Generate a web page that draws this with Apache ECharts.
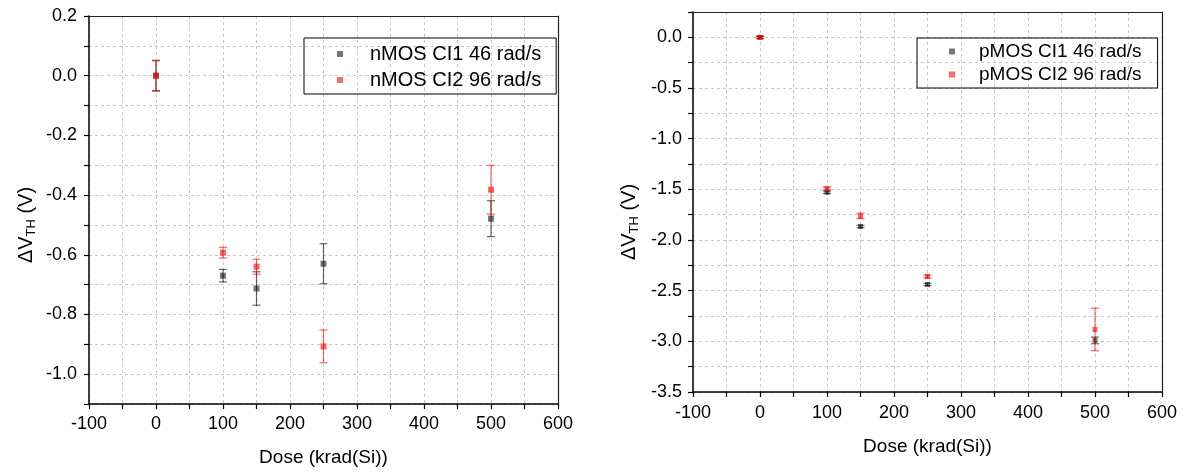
<!DOCTYPE html>
<html>
<head>
<meta charset="utf-8">
<script src="https://cdn.jsdelivr.net/npm/echarts@6/dist/echarts.min.js"></script>
<style>
  html, body { margin: 0; padding: 0; background: #fff; }
  #chart { width: 1187px; height: 472px; }
</style>
</head>
<body>
<div id="chart"></div>
<script>
// ---- Data ----
const doses = [0, 100, 150, 250, 500];

const nmosNames = ['nMOS CI1 46 rad/s', 'nMOS CI2 96 rad/s'];
const nmosCI1 = [0, -0.670, -0.713, -0.630, -0.479];
const nmosCI1Err = [0.05, 0.021, 0.056, 0.067, 0.060];
const nmosCI2 = [0, -0.593, -0.640, -0.907, -0.382];
const nmosCI2Err = [0.052, 0.018, 0.025, 0.055, 0.082];

const pmosNames = ['pMOS CI1 46 rad/s', 'pMOS CI2 96 rad/s'];
const pmosCI1 = [0, -1.529, -1.867, -2.439, -2.991];
const pmosCI1Err = [0.01, 0.012, 0.012, 0.012, 0.033];
const pmosCI2 = [0, -1.492, -1.762, -2.360, -2.883];
const pmosCI2Err = [0.012, 0.015, 0.027, 0.015, 0.21];

const xTitle = 'Dose (krad(Si))';

// ---- Styles ----
const FONT = 'Liberation Sans';
const GRAY = 'rgba(0,0,0,0.67)';
const RED = 'rgba(255,0,0,0.75)';
const GRAY_ERR = 'rgba(0,0,0,0.6)';
const RED_ERR = 'rgba(255,0,0,0.6)';

function pts(vals) { return doses.map((d, i) => [d, vals[i]]); }
function errPts(vals, errs) { return doses.map((d, i) => [d, vals[i], errs[i]]); }

function errRender(params, api) {
  const x = api.value(0), y = api.value(1), e = api.value(2);
  const t = api.coord([x, y + e]);
  const b = api.coord([x, y - e]);
  const hw = 4;
  const st = { stroke: api.visual('color'), lineWidth: 1.2 };
  return {
    type: 'group',
    children: [
      { type: 'line', shape: { x1: t[0], y1: t[1], x2: b[0], y2: b[1] }, style: st },
      { type: 'line', shape: { x1: t[0] - hw, y1: t[1], x2: t[0] + hw, y2: t[1] }, style: st },
      { type: 'line', shape: { x1: b[0] - hw, y1: b[1], x2: b[0] + hw, y2: b[1] }, style: st }
    ]
  };
}

const splitStyle = { show: true, lineStyle: { color: '#c8c8c8', type: [3, 3], width: 1 } };
const axisLineStyle = { show: true, onZero: false, lineStyle: { color: '#000', width: 1.5 } };
const frameLine = { show: true, onZero: false, lineStyle: { color: '#222', width: 1.2 } };

function xAxisCfg(gridIndex, margin, nameGap) {
  return {
    type: 'value', gridIndex: gridIndex, min: -100, max: 600, interval: 50,
    axisLine: axisLineStyle,
    axisTick: { show: true, length: 5, lineStyle: { color: '#000', width: 1.2 } },
    axisLabel: {
      color: '#000', fontFamily: FONT, fontSize: 18, margin: margin,
      formatter: v => (Math.round(v) % 100 === 0 ? String(Math.round(v)) : '')
    },
    splitLine: splitStyle,
    name: xTitle, nameLocation: 'middle', nameGap: nameGap,
    nameTextStyle: { color: '#000', fontFamily: FONT, fontSize: 19 }
  };
}
function frameX(gridIndex) {
  return { type: 'value', gridIndex: gridIndex, position: 'top', min: -100, max: 600, interval: 50,
    axisLine: frameLine, axisTick: { show: false }, axisLabel: { show: false }, splitLine: { show: false } };
}
function frameY(gridIndex, mn, mx, iv) {
  return { type: 'value', gridIndex: gridIndex, position: 'right', min: mn, max: mx, interval: iv,
    axisLine: frameLine, axisTick: { show: false }, axisLabel: { show: false }, splitLine: { show: false } };
}

function yNameStyle(fs, padEnd) {
  return {
    color: '#000', fontFamily: FONT, fontSize: fs, padding: [0, padEnd, 0, 0],
    rich: {
      a: { fontFamily: FONT, fontSize: fs, color: '#000' },
      s: { fontFamily: FONT, fontSize: 13, color: '#000', padding: [11, 0, 0, 0] }
    }
  };
}

const option = {
  animation: false,
  backgroundColor: '#fff',
  grid: [
    { left: 89, top: 16, width: 469, height: 388 },
    { left: 693, top: 12, width: 469, height: 380 }
  ],
  xAxis: [ xAxisCfg(0, 11, 44), xAxisCfg(1, 12, 45), frameX(0), frameX(1) ],
  yAxis: [
    {
      type: 'value', gridIndex: 0, min: -1.1, max: 0.2, interval: 0.1,
      axisLine: axisLineStyle,
      axisTick: { show: true, length: 5, lineStyle: { color: '#000', width: 1.2 } },
      axisLabel: {
        color: '#000', fontFamily: FONT, fontSize: 18, margin: 12,
        formatter: v => { const k = Math.round(v * 10); return k % 2 === 0 ? (k / 10).toFixed(1) : ''; }
      },
      splitLine: splitStyle,
      name: '{a|ΔV}{s|TH}{a| (V)}', nameLocation: 'middle', nameRotate: 90, nameGap: 51,
      nameTextStyle: yNameStyle(20, 30)
    },
    {
      type: 'value', gridIndex: 1, min: -3.5, max: 0.25, interval: 0.25,
      axisLine: axisLineStyle,
      axisTick: { show: true, length: 5, lineStyle: { color: '#000', width: 1.2 } },
      axisLabel: {
        color: '#000', fontFamily: FONT, fontSize: 18, margin: 11,
        formatter: v => { const k = Math.round(v * 4); return k % 2 === 0 ? (k / 4).toFixed(1) : ''; }
      },
      splitLine: splitStyle,
      name: '{a|ΔV}{s|TH}{a| (V)}', nameLocation: 'middle', nameRotate: 90, nameGap: 52,
      nameTextStyle: yNameStyle(20, 40)
    },
    frameY(0, -1.1, 0.2, 0.1),
    frameY(1, -3.5, 0.25, 0.25)
  ],
  legend: [
    {
      data: nmosNames, orient: 'vertical', left: 304, top: 38,
      borderColor: '#000', borderWidth: 1, padding: [6, 15, 4, 33], itemGap: 6,
      itemWidth: 6, itemHeight: 6, icon: 'rect', selectedMode: false,
      textStyle: { color: '#000', fontFamily: FONT, fontSize: 20, padding: [0, 0, 0, 22] }
    },
    {
      data: pmosNames, orient: 'vertical', left: 917, top: 38,
      borderColor: '#000', borderWidth: 1, padding: [4, 16, 4, 32], itemGap: 4,
      itemWidth: 6, itemHeight: 6, icon: 'rect', selectedMode: false,
      textStyle: { color: '#000', fontFamily: FONT, fontSize: 19, padding: [0, 0, 0, 19] }
    }
  ],
  series: [
    { type: 'custom', xAxisIndex: 0, yAxisIndex: 0, renderItem: errRender, itemStyle: { color: GRAY_ERR },
      data: errPts(nmosCI1, nmosCI1Err), encode: { x: 0, y: 1 }, z: 2 },
    { type: 'scatter', name: nmosNames[0], xAxisIndex: 0, yAxisIndex: 0, symbol: 'rect', symbolSize: 6,
      itemStyle: { color: GRAY }, data: pts(nmosCI1), z: 3 },
    { type: 'custom', xAxisIndex: 0, yAxisIndex: 0, renderItem: errRender, itemStyle: { color: RED_ERR },
      data: errPts(nmosCI2, nmosCI2Err), encode: { x: 0, y: 1 }, z: 4 },
    { type: 'scatter', name: nmosNames[1], xAxisIndex: 0, yAxisIndex: 0, symbol: 'rect', symbolSize: 6,
      itemStyle: { color: RED }, data: pts(nmosCI2), z: 5 },

    { type: 'custom', xAxisIndex: 1, yAxisIndex: 1, renderItem: errRender, itemStyle: { color: GRAY_ERR },
      data: errPts(pmosCI1, pmosCI1Err), encode: { x: 0, y: 1 }, z: 2 },
    { type: 'scatter', name: pmosNames[0], xAxisIndex: 1, yAxisIndex: 1, symbol: 'rect', symbolSize: 5,
      itemStyle: { color: GRAY }, data: pts(pmosCI1), z: 3 },
    { type: 'custom', xAxisIndex: 1, yAxisIndex: 1, renderItem: errRender, itemStyle: { color: RED_ERR },
      data: errPts(pmosCI2, pmosCI2Err), encode: { x: 0, y: 1 }, z: 4 },
    { type: 'scatter', name: pmosNames[1], xAxisIndex: 1, yAxisIndex: 1, symbol: 'rect', symbolSize: 5,
      itemStyle: { color: RED }, data: pts(pmosCI2), z: 5 }
  ]
};

const chart = echarts.init(document.getElementById('chart'), null, { renderer: 'canvas' });
chart.setOption(option);
</script>
</body>
</html>
